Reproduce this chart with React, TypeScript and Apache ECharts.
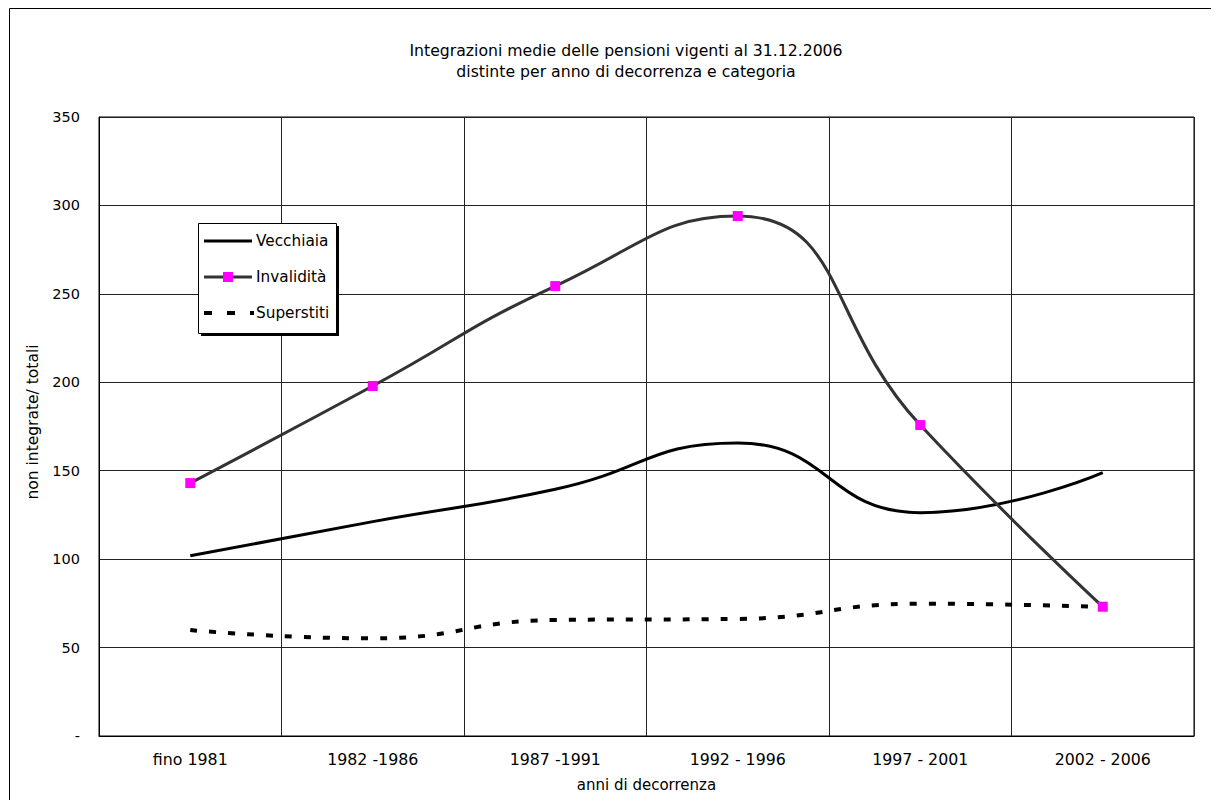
import React, { useEffect, useRef } from "react";
import * as echarts from "echarts";

const categories = ["fino 1981", "1982 -1986", "1987 -1991", "1992 - 1996", "1997 - 2001", "2002 - 2006"];
const vecchiaia = [101.9, 121.2, 139.5, 165.7, 126.3, 148.9];
const invalidita = [143.0, 197.9, 254.4, 294.0, 175.8, 73.1];
const superstiti = [59.9, 55.2, 65.6, 66.2, 74.8, 72.9];
const yTicks = [0, 50, 100, 150, 200, 250, 300, 350];
const seriesNames = ["Vecchiaia", "Invalidità", "Superstiti"];
const titleLines = ["Integrazioni medie delle pensioni vigenti al 31.12.2006", "distinte per anno di decorrenza e categoria"];
const xAxisName = "anni di decorrenza";
const yAxisName = "non integrate/ totali";

const FONT = "DejaVu Sans";

export default function App() {
  const ref = useRef<HTMLDivElement>(null);
  useEffect(() => {
    if (!ref.current) return;
    const chart = echarts.init(ref.current, undefined, { renderer: "svg" });
    const lx = 190;
    const ly = 215;
    const rows = [233, 269, 305];
    chart.setOption({
      animation: false,
      backgroundColor: "#fff",
      title: {
        text: titleLines.join("\n"),
        left: 613,
        top: 27,
        textAlign: "center",
        textStyle: { fontFamily: FONT, fontSize: 15.7, fontWeight: "normal", color: "#000", lineHeight: 21 },
      },
      graphic: [
        {
          type: "rect",
          shape: { x: 1.5, y: 0.5, width: 1400, height: 1000 },
          style: { fill: "none", stroke: "#000", lineWidth: 1 },
          silent: true,
          z: 0,
        },
        {
          type: "text",
          x: 25,
          y: 414,
          rotation: Math.PI / 2,
          style: {
            text: yAxisName,
            fontFamily: FONT,
            fontSize: 15.5,
            fill: "#000",
            align: "center",
            verticalAlign: "middle",
          },
          silent: true,
          z: 10,
        },
        {
          type: "group",
          z: 20,
          children: [
            { type: "rect", shape: { x: lx + 3, y: ly + 3, width: 138, height: 110 }, style: { fill: "#000" }, z: 20 },
            { type: "rect", shape: { x: lx + 0.5, y: ly + 0.5, width: 138, height: 110 }, style: { fill: "#fff", stroke: "#000", lineWidth: 1 }, z: 21 },
            { type: "line", shape: { x1: lx + 6, y1: rows[0], x2: lx + 54, y2: rows[0] }, style: { stroke: "#000", lineWidth: 3 }, z: 22 },
            { type: "line", shape: { x1: lx + 6, y1: rows[1], x2: lx + 54, y2: rows[1] }, style: { stroke: "#333", lineWidth: 3 }, z: 22 },
            { type: "rect", shape: { x: lx + 25, y: rows[1] - 5, width: 10, height: 10 }, style: { fill: "#ff00ff" }, z: 23 },
            { type: "line", shape: { x1: lx + 6, y1: rows[2], x2: lx + 56, y2: rows[2] }, style: { stroke: "#000", lineWidth: 4, lineDash: [8, 15] }, z: 22 },
            ...seriesNames.map((n, i) => ({
              type: "text",
              x: lx + 58,
              y: rows[i],
              style: { text: n, fontFamily: FONT, fontSize: 15.3, fill: "#000", align: "left", verticalAlign: "middle" },
              z: 23,
            })),
          ],
        },
      ],
      grid: {
        left: 91,
        top: 109,
        width: 1095,
        height: 619,
        show: true,
        borderColor: "#000",
        borderWidth: 1,
        backgroundColor: "transparent",
      },
      xAxis: {
        type: "category",
        data: categories,
        boundaryGap: true,
        name: xAxisName,
        nameLocation: "middle",
        nameGap: 41,
        nameTextStyle: { fontFamily: FONT, fontSize: 15, color: "#000" },
        axisLine: { show: true, lineStyle: { color: "#000", width: 1 } },
        axisTick: { show: false },
        axisLabel: { margin: 15, fontFamily: FONT, fontSize: 15.8, color: "#000" },
        splitLine: { show: true, lineStyle: { color: "#222", width: 1 } },
      },
      yAxis: {
        type: "value",
        min: 0,
        max: 350,
        interval: 50,
        axisLine: { show: true, lineStyle: { color: "#000", width: 1 } },
        axisTick: { show: false },
        axisLabel: {
          margin: 19,
          fontFamily: FONT,
          fontSize: 14.5,
          color: "#000",
          formatter: (v: number) => (v === 0 ? "-" : yTicks.includes(v) ? String(v) : ""),
        },
        splitLine: { show: true, lineStyle: { color: "#222", width: 1 } },
      },
      series: [
        {
          name: seriesNames[0],
          type: "line",
          data: vecchiaia,
          smooth: 0.5,
          symbol: "none",
          lineStyle: { color: "#000", width: 3 },
          itemStyle: { color: "#000" },
          z: 3,
        },
        {
          name: seriesNames[1],
          type: "line",
          data: invalidita,
          smooth: 0.5,
          symbol: "rect",
          symbolSize: 10,
          showSymbol: true,
          lineStyle: { color: "#333", width: 3 },
          itemStyle: { color: "#ff00ff", borderWidth: 0 },
          z: 4,
        },
        {
          name: seriesNames[2],
          type: "line",
          data: superstiti,
          smooth: 0.5,
          symbol: "none",
          lineStyle: { color: "#000", width: 4, type: [7, 12] },
          itemStyle: { color: "#000" },
          z: 3,
        },
      ],
    });
    return () => chart.dispose();
  }, []);
  return <div ref={ref} style={{ width: 1203, height: 792 }} />;
}
